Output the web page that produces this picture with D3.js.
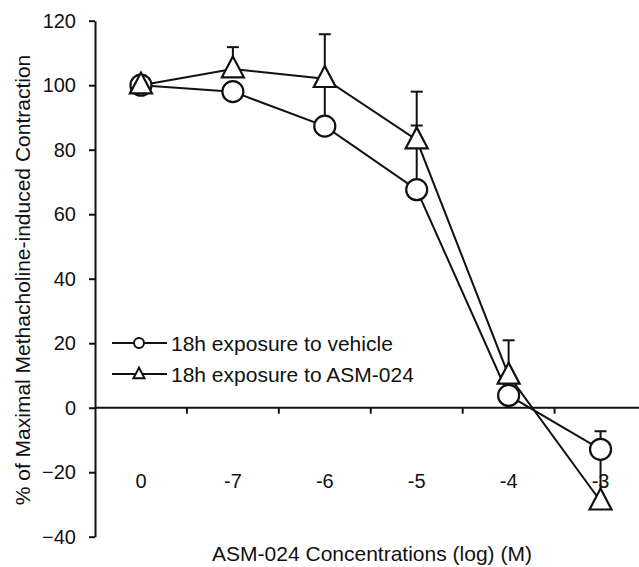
<!DOCTYPE html>
<html>
<head>
<meta charset="utf-8">
<script src="https://cdn.jsdelivr.net/npm/d3@7"></script>
<style>
  body { margin: 0; background: #fff; }
  text { font-family: Arial, "Liberation Sans", sans-serif; fill: #111; }
</style>
</head>
<body>
<div id="chart"></div>
<script>
// concentrations (log M), first one is the no-drug point
const categories = ["0", "-7", "-6", "-5", "-4", "-3"];
const vehicle = [100, 98, 87.3, 67.6, 3.8, -12.9];
const vehicleErr = [null, null, 100, 87.5, null, -7.3];   // top of error bar
const asm = [100, 105, 102, 83, 10, -29];
const asmErr = [null, 111.8, 115.8, 98, 20.9, -13];
const yTicks = [-40, -20, 0, 20, 40, 60, 80, 100, 120];
const legendLabels = ["18h exposure to vehicle", "18h exposure to ASM-024"];

const width = 639, height = 567;

const svg = d3.select("#chart").append("svg")
    .attr("width", width)
    .attr("height", height);

const x = d3.scaleBand()
    .domain(categories)
    .range([95, 646.5])
    .padding(0);

const y = d3.scaleLinear()
    .domain([-40, 120])
    .range([536.7, 20.7]);

const cx = d => x(d) + x.bandwidth() / 2;

// y axis
const yAxis = svg.append("g")
    .attr("transform", "translate(95,0)")
    .call(d3.axisLeft(y).tickValues(yTicks).tickSize(6).tickSizeOuter(0).tickPadding(13));
yAxis.select(".domain").attr("stroke", "#111").attr("stroke-width", 2);
yAxis.selectAll(".tick line").attr("stroke", "#111").attr("stroke-width", 2);
yAxis.selectAll(".tick text").style("font-size", "20px").attr("fill", "#111");

// x axis sits at zero
svg.append("line")
    .attr("x1", 95).attr("x2", width)
    .attr("y1", y(0)).attr("y2", y(0))
    .attr("stroke", "#111").attr("stroke-width", 2);

svg.append("g").selectAll("line")
    .data(categories.slice(1))
    .join("line")
      .attr("x1", d => x(d)).attr("x2", d => x(d))
      .attr("y1", y(0)).attr("y2", y(0) + 6)
      .attr("stroke", "#111").attr("stroke-width", 2);

svg.append("g").selectAll("text")
    .data(categories)
    .join("text")
      .attr("x", d => cx(d))
      .attr("y", y(0) + 80)
      .attr("text-anchor", "middle")
      .style("font-size", "20px")
      .text(d => d);

// titles
svg.append("text")
    .attr("x", 372)
    .attr("y", 561)
    .attr("text-anchor", "middle")
    .style("font-size", "21px")
    .text("ASM-024 Concentrations (log) (M)");

svg.append("text")
    .attr("transform", "translate(30,280) rotate(-90)")
    .attr("text-anchor", "middle")
    .style("font-size", "21px")
    .text("% of Maximal Methacholine-induced Contraction");

const line = d3.line()
    .x((d, i) => cx(categories[i]))
    .y(d => y(d));

const triPath = (s) => `M0,${-s * 1.15}L${s},${s * 0.75}L${-s},${s * 0.75}Z`;

// error bars (upper only)
function errorBars(vals, errs) {
  const g = svg.append("g").attr("stroke", "#111").attr("stroke-width", 2);
  vals.forEach((v, i) => {
    if (errs[i] == null) return;
    const px = cx(categories[i]);
    g.append("line").attr("x1", px).attr("x2", px).attr("y1", y(v)).attr("y2", y(errs[i]));
    g.append("line").attr("x1", px - 6).attr("x2", px + 6).attr("y1", y(errs[i])).attr("y2", y(errs[i]));
  });
}
errorBars(vehicle, vehicleErr);
errorBars(asm, asmErr);

svg.append("path")
    .datum(vehicle)
    .attr("d", line)
    .attr("fill", "none").attr("stroke", "#111").attr("stroke-width", 2);

svg.append("path")
    .datum(asm)
    .attr("d", line)
    .attr("fill", "none").attr("stroke", "#111").attr("stroke-width", 2);

svg.append("g").selectAll("circle")
    .data(vehicle)
    .join("circle")
      .attr("cx", (d, i) => cx(categories[i]))
      .attr("cy", d => y(d))
      .attr("r", 10.5)
      .attr("fill", "#fff").attr("stroke", "#111").attr("stroke-width", 2.2);

svg.append("g").selectAll("path")
    .data(asm)
    .join("path")
      .attr("transform", (d, i) => `translate(${cx(categories[i])},${y(d)})`)
      .attr("d", triPath(11))
      .attr("fill", "#fff").attr("stroke", "#111").attr("stroke-width", 2.2)
      .attr("stroke-linejoin", "miter");

// legend
const legend = svg.append("g");
legendLabels.forEach((label, i) => {
  const ly = 343 + i * 31;
  legend.append("line")
      .attr("x1", 112).attr("x2", 167).attr("y1", ly).attr("y2", ly)
      .attr("stroke", "#111").attr("stroke-width", 2);
  if (i === 0) {
    legend.append("circle").attr("cx", 139).attr("cy", ly).attr("r", 5)
        .attr("fill", "#fff").attr("stroke", "#111").attr("stroke-width", 2);
  } else {
    legend.append("path").attr("transform", `translate(139,${ly})`)
        .attr("d", triPath(5.5))
        .attr("fill", "#fff").attr("stroke", "#111").attr("stroke-width", 2);
  }
  legend.append("text")
      .attr("x", 171).attr("y", ly + 7.5)
      .style("font-size", "21px")
      .text(label);
});
</script>
</body>
</html>
